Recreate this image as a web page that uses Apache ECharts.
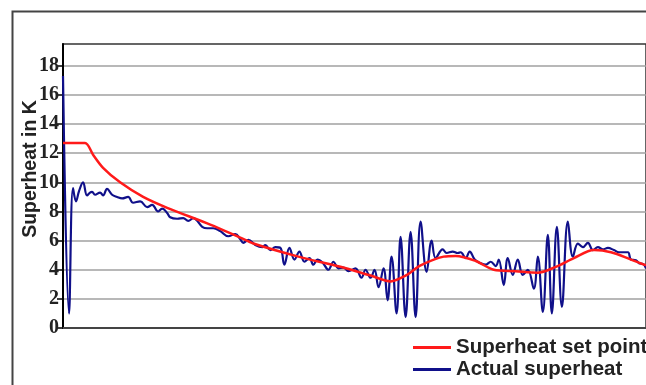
<!DOCTYPE html>
<html>
<head>
<meta charset="utf-8">
<script src="https://cdn.jsdelivr.net/npm/echarts@6/dist/echarts.min.js"></script>
<style>
html,body{margin:0;padding:0;background:#fff;}
#chart{width:646px;height:385px;}
</style>
</head>
<body>
<div id="chart"></div>
<script>
// Y axis tick labels
const yTicks = [0, 2, 4, 6, 8, 10, 12, 14, 16, 18];

// Superheat set point (time in arbitrary units, value in K)
const setTime  = [0, 22, 30, 40, 57, 80, 104, 147, 177, 190, 235, 277, 307, 327, 342, 357, 380, 392, 412, 430, 452, 474, 492, 510, 530, 547, 567, 582];
const setValue = [12.7, 12.7, 11.9, 11.0, 10.0, 9.0, 8.25, 7.1, 6.2, 5.8, 4.9, 4.2, 3.6, 3.2, 3.6, 4.3, 4.9, 4.95, 4.6, 4.0, 3.9, 3.8, 4.2, 4.8, 5.35, 5.2, 4.7, 4.3];

// Actual superheat
const actTime  = [0, 6, 10, 13, 16, 20, 24, 27, 29, 32, 37, 40, 44, 49, 54, 59, 65, 70, 77, 84, 89, 95, 99, 104, 107, 114, 120, 125, 130, 139, 144, 150, 157, 165, 172, 177, 180, 185, 192, 199, 202, 207, 212, 217, 221, 226, 231, 236, 241, 246, 250, 254, 259, 265, 270, 275, 280, 285, 292, 298, 302, 307, 311, 315, 320, 324, 328, 333, 337, 342, 347, 352, 357, 363, 368, 372, 379, 383, 389, 394, 397, 402, 406, 411, 417, 422, 427, 432, 435, 440, 444, 449, 454, 459, 464, 470, 474, 479, 484, 488, 493, 498, 504, 509, 514, 519, 524, 529, 534, 539, 544, 550, 555, 560, 564, 567, 572, 575, 579, 582];
const actValue = [17.3, 1.0, 9.6, 8.7, 9.4, 10.0, 9.1, 9.3, 9.35, 9.15, 9.3, 9.1, 9.55, 9.15, 9.0, 8.9, 9.0, 8.6, 8.7, 8.3, 8.45, 8.0, 8.2, 7.9, 7.6, 7.5, 7.55, 7.35, 7.55, 6.95, 6.85, 6.85, 6.65, 6.3, 6.45, 6.1, 5.85, 6.05, 5.7, 5.55, 5.7, 5.35, 5.55, 5.5, 4.35, 5.5, 4.7, 5.25, 4.55, 4.8, 4.35, 4.7, 4.5, 4.0, 4.55, 4.1, 4.15, 3.9, 4.1, 3.45, 4.0, 3.45, 4.0, 2.8, 4.1, 1.9, 4.9, 1.0, 6.25, 0.75, 6.6, 0.75, 7.3, 3.85, 6.0, 4.8, 5.4, 5.15, 5.25, 5.15, 5.2, 4.8, 5.25, 4.7, 4.45, 4.35, 4.55, 4.25, 4.7, 2.95, 4.8, 3.65, 4.7, 3.65, 4.0, 2.7, 4.9, 1.1, 6.4, 1.0, 6.95, 1.45, 7.3, 4.9, 5.8, 5.55, 5.85, 5.35, 5.55, 5.4, 5.5, 5.35, 5.2, 5.2, 5.2, 4.7, 4.65, 4.45, 4.4, 4.1];

const seriesNames = ['Superheat set point', 'Actual superheat'];
const axisTitle = 'Superheat in K';

const zip = (a, b) => a.map((v, i) => [v, b[i]]);

const legendText = {fontFamily: 'Liberation Sans', fontWeight: 'bold', fontSize: 20.5, color: '#222'};

const chart = echarts.init(document.getElementById('chart'), null, {renderer: 'canvas'});
chart.setOption({
  backgroundColor: '#fff',
  animation: false,
  grid: {
    left: 63, top: 44, right: 0, bottom: 57,
    show: true, borderColor: '#333', borderWidth: 1.5, backgroundColor: 'transparent'
  },
  xAxis: {
    type: 'value', min: 0, max: 582,
    axisLine: {show: true, lineStyle: {color: '#444', width: 2}},
    axisTick: {show: false}, axisLabel: {show: false}, splitLine: {show: false}
  },
  yAxis: {
    type: 'value', min: 0, max: 19.5, interval: 2,
    axisLine: {show: true, lineStyle: {color: '#000', width: 2}},
    axisTick: {show: true, length: 6, lineStyle: {color: '#000', width: 1.5}, customValues: yTicks},
    axisLabel: {
      customValues: yTicks, margin: 4,
      fontFamily: 'Liberation Serif', fontWeight: 'bold', fontSize: 20, color: '#222'
    },
    splitLine: {show: true, lineStyle: {color: '#a0a0a0', width: 1.5}}
  },
  legend: [
    {left: 413, top: 337, padding: 0, itemWidth: 38, itemHeight: 3, icon: 'rect',
     textStyle: legendText, data: [seriesNames[0]]},
    {left: 413, top: 359, padding: 0, itemWidth: 38, itemHeight: 3, icon: 'rect',
     textStyle: legendText, data: [seriesNames[1]]}
  ],
  graphic: [
    {type: 'rect', shape: {x: 12.5, y: 11.5, width: 800, height: 500},
     style: {fill: 'none', stroke: '#444', lineWidth: 2}, z: -1, silent: true},
    {type: 'text', x: 31, y: 169, rotation: Math.PI / 2,
     style: {text: axisTitle, fontFamily: 'Liberation Sans', fontWeight: 'bold', fontSize: 19.5,
             fill: '#222', align: 'center', verticalAlign: 'middle'}}
  ],
  series: [
    {name: seriesNames[0], type: 'line', data: zip(setTime, setValue), showSymbol: false,
     smooth: 0.3, lineStyle: {color: '#ff1a1a', width: 2.5}, itemStyle: {color: '#ff1a1a'}, z: 3},
    {name: seriesNames[1], type: 'line', data: zip(actTime, actValue), showSymbol: false,
     smooth: 0.4, lineStyle: {color: '#10108a', width: 2.2}, itemStyle: {color: '#10108a'}, z: 2}
  ]
});
</script>
</body>
</html>
